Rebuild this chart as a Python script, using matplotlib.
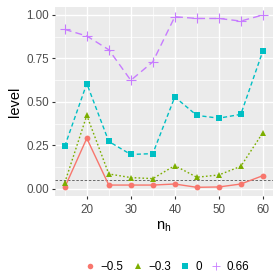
import matplotlib
matplotlib.use("Agg")
import matplotlib.pyplot as plt
from matplotlib.lines import Line2D

plt.rcParams['font.family'] = ['Liberation Sans', 'DejaVu Sans']
plt.rcParams['mathtext.fontset'] = 'custom'
plt.rcParams['mathtext.rm'] = 'Liberation Sans'
plt.rcParams['mathtext.it'] = 'Liberation Sans'

n_h = [15, 20, 25, 30, 35, 40, 45, 50, 55, 60]
series_labels = ["\u22120.5", "\u22120.3", "0", "0.66"]
level_m05 = [0.008, 0.290, 0.021, 0.021, 0.021, 0.027, 0.008, 0.010, 0.027, 0.075]
level_m03 = [0.035, 0.422, 0.085, 0.064, 0.058, 0.133, 0.066, 0.079, 0.129, 0.322]
level_0 = [0.245, 0.605, 0.272, 0.197, 0.202, 0.528, 0.422, 0.406, 0.428, 0.792]
level_066 = [0.917, 0.879, 0.800, 0.624, 0.730, 0.990, 0.980, 0.980, 0.965, 1.000]
nominal = 0.05

series = [level_m05, level_m03, level_0, level_066]
colors = ["#F8766D", "#7CAE00", "#00BFC4", "#C77CFF"]
markers = ["o", "^", "s", "+"]
msizes = [4.2, 5.0, 4.0, 7.0]
legend_msizes = [4.0, 4.4, 3.8, 5.5]
linestyles = ["-", (0, (1.2, 1.6)), (0, (3.0, 2.0)), (0, (5.0, 3.0))]

fig = plt.figure(figsize=(2.8, 2.8), dpi=100)
ax = fig.add_axes([0.196, 0.300, 0.778, 0.675])
ax.set_facecolor("#EBEBEB")
for s in ax.spines.values():
    s.set_visible(False)

ax.set_xlim(12.75, 62.25)
ax.set_ylim(-0.042, 1.046)
ax.set_xticks([20, 30, 40, 50, 60])
ax.set_xticks([15, 25, 35, 45, 55], minor=True)
ax.set_yticks([0, 0.25, 0.5, 0.75, 1.0])
ax.set_yticklabels(["0.00", "0.25", "0.50", "0.75", "1.00"])
ax.set_yticks([0.125, 0.375, 0.625, 0.875], minor=True)
ax.grid(which="major", color="white", linewidth=1.0)
ax.grid(which="minor", color="white", linewidth=0.5)
ax.set_axisbelow(True)
ax.tick_params(which="major", length=2.5, width=0.8, color="#333333",
               labelsize=8.4, labelcolor="#4D4D4D", pad=2)
ax.tick_params(axis="x", which="major", pad=3.5)
ax.tick_params(which="minor", length=0)

ax.axhline(nominal, color="#555555", linestyle=(0, (3, 2)), linewidth=0.6, zorder=1)

handles = []
for vals, c, m, ms, lms, ls, lab in zip(series, colors, markers, msizes, legend_msizes,
                                         linestyles, series_labels):
    ax.plot(n_h, vals, color=c, linestyle=ls, linewidth=1.0, zorder=3)
    ax.plot(n_h, vals, color=c, linestyle="none", marker=m, markersize=ms,
            markeredgewidth=0.8 if m == "+" else 0.0, zorder=4)
    handles.append(Line2D([], [], color=c, marker=m, linestyle="none",
                          markersize=lms, markeredgewidth=0.6 if m == "+" else 0.0,
                          label=lab))

ax.set_xlabel(r"$\mathregular{n_h}$", fontsize=10.5, labelpad=2)
ax.set_ylabel("level", fontsize=10.5, labelpad=3)

fig.legend(handles=handles, loc="center", ncol=4, bbox_to_anchor=(0.595, 0.045),
           frameon=False, fontsize=8.4, handlelength=1.0, handletextpad=0.4,
           columnspacing=0.7, borderaxespad=0)

fig.savefig("out.png", dpi=100)
